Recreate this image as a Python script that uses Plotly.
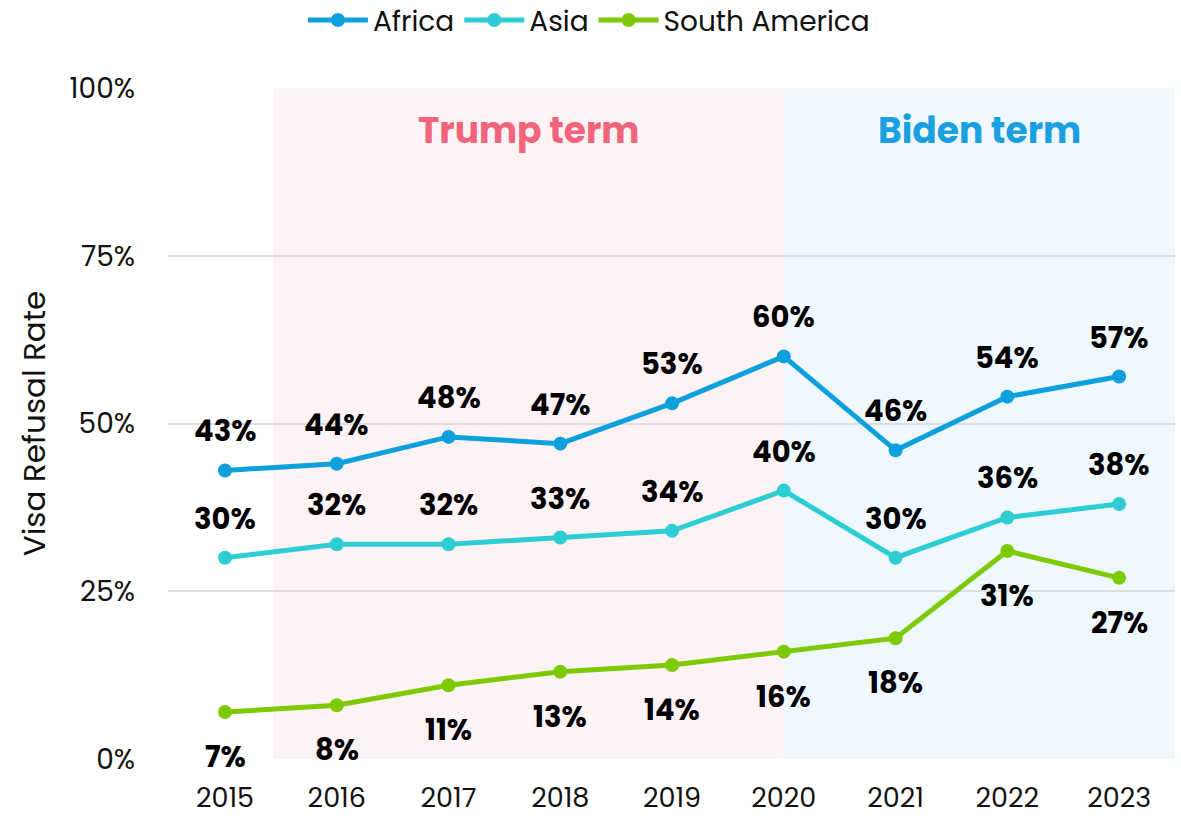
import plotly.graph_objects as go

years = [2015, 2016, 2017, 2018, 2019, 2020, 2021, 2022, 2023]
africa = [43, 44, 48, 47, 53, 60, 46, 54, 57]
asia = [30, 32, 32, 33, 34, 40, 30, 36, 38]
south_america = [7, 8, 11, 13, 14, 16, 18, 31, 27]

series = [
    ("Africa", africa, "#0ea0dd", 39),
    ("Asia", asia, "#2ecdd3", 39),
    ("South America", south_america, "#7dca04", -45),
]

FONT = "Poppins, Inter, sans-serif"

fig = go.Figure()

# Presidential term bands
fig.add_shape(type="rect", xref="x", yref="y", x0=2015.43, x1=2020, y0=0, y1=100,
              fillcolor="#fdf2f4", line_width=0, layer="below")
fig.add_shape(type="rect", xref="x", yref="y", x0=2020, x1=2023.5, y0=0, y1=100,
              fillcolor="#eef8fe", line_width=0, layer="below")

for name, vals, color, shift in series:
    fig.add_trace(go.Scatter(
        x=years, y=vals, name=name, mode="lines+markers",
        line=dict(color=color, width=5), marker=dict(color=color, size=14),
        cliponaxis=False,
    ))
    for xv, yv in zip(years, vals):
        fig.add_annotation(x=xv, y=yv, text=f"{yv}%", showarrow=False, yshift=shift,
                           font=dict(family=FONT, size=29, color="#000000", weight=700))

fig.add_annotation(x=(2015.43 + 2020) / 2, y=93.6, text="Trump term", showarrow=False,
                   font=dict(family=FONT, size=36, color="#f2647c", weight=700))
fig.add_annotation(x=2020 + 1.75, y=93.6, text="Biden term", showarrow=False,
                   font=dict(family=FONT, size=36, color="#1aa0e0", weight=700))

fig.update_layout(
    width=1181, height=818,
    margin=dict(l=168, r=6, t=88, b=59, autoexpand=False),
    paper_bgcolor="white", plot_bgcolor="white",
    font=dict(family=FONT, size=28, color="#111111"),
    showlegend=True,
    legend=dict(orientation="h", x=0.418, xanchor="center", y=1.101, yanchor="middle",
                font=dict(size=28), itemwidth=60, entrywidth=0),
    xaxis=dict(range=[2014.49, 2023.5], tickvals=years, showgrid=False, zeroline=False,
               showline=False, ticks="", tickfont=dict(size=27), ticklabelstandoff=20),
    yaxis=dict(range=[0, 100], tickvals=[0, 25, 50, 75, 100],
               ticktext=["0%", "25%", "50%", "75%", "100%"],
               showgrid=True, gridcolor="#dedede", gridwidth=2, zeroline=False,
               ticks="", ticklabelstandoff=32, tickfont=dict(size=28),
               title=dict(text="Visa Refusal Rate", font=dict(size=31), standoff=14)),
)

fig.write_html("out.html")
